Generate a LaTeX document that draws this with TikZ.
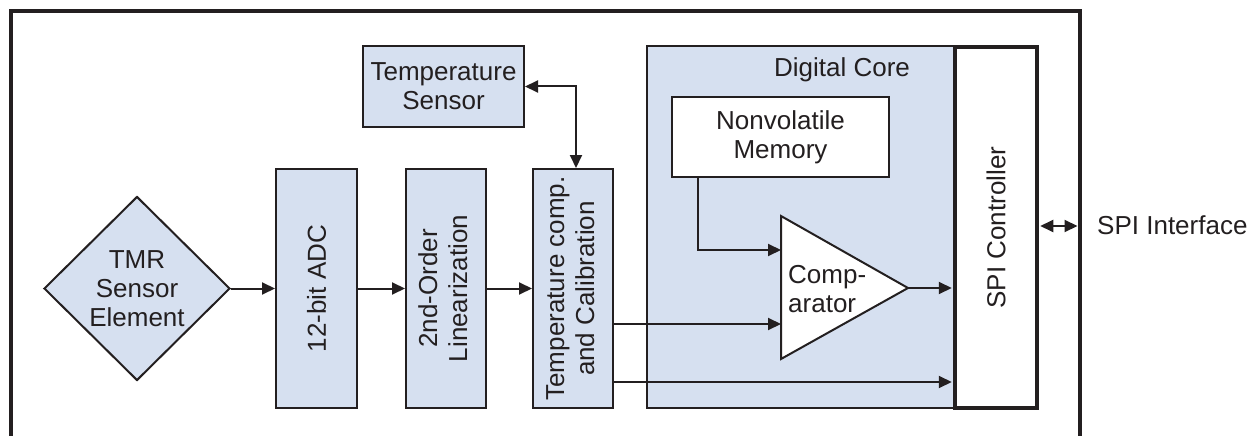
\documentclass[tikz,border=0pt]{standalone}
\usepackage{fontspec}
\setmainfont{Liberation Sans}
\usepackage{graphicx}
\usetikzlibrary{arrows.meta,shapes.geometric,calc}
\definecolor{bluefill}{RGB}{214,224,240}
\definecolor{ink}{RGB}{35,31,32}
\begin{document}
\begin{tikzpicture}[x=1pt,y=-1pt,
  every node/.style={font=\fontsize{26}{29}\selectfont, text=ink},
  blkbox/.style={draw=ink, line width=2pt, fill=bluefill, inner sep=0pt, align=center},
  whitebox/.style={draw=ink, line width=2pt, fill=white, inner sep=0pt, align=center},
  conn/.style={draw=ink, line width=2pt, -{Triangle[length=13pt,width=12pt]}},
  dconn/.style={draw=ink, line width=2pt, {Triangle[length=13pt,width=12pt]}-{Triangle[length=13pt,width=12pt]}}]
\useasboundingbox (0,0) rectangle (1251,436);

% outer frame
\draw[ink, line width=4pt] (11,436) -- (11,11) -- (1079.5,11) -- (1079.5,436);

% digital core
\node[blkbox, minimum width=308pt, minimum height=362pt] (core) at (801,227) {};
\node (corelbl) at (842,70) {Digital Core};
\node[whitebox, minimum width=217pt, minimum height=80pt] (mem) at (780.5,137) {Nonvolatile\\Memory};

% comparator
\coordinate (ct) at (781,216);
\coordinate (cb) at (781,359);
\coordinate (cout) at (908,288);
\coordinate (cin1) at (781,250);
\coordinate (cin2) at (781,324);
\draw[ink, line width=2pt, fill=white, line join=miter] (ct) -- (cout) -- (cb) -- cycle;
\node[anchor=west, inner sep=0pt, align=left] (comp) at (788,289) {Comp-\\arator};

% SPI controller
\node[draw=ink, line width=3.5pt, fill=white, inner sep=0pt, minimum width=82pt, minimum height=361pt] (spi) at (996,227.5) {\rotatebox{90}{SPI Controller}};

% signal chain
\node[blkbox, shape=diamond, minimum width=186pt, minimum height=184pt] (tmr) at (137,288.5) {TMR\\Sensor\\Element};
\node[blkbox, minimum width=81pt, minimum height=239pt] (adc) at (316.5,288.5) {\rotatebox{90}{12-bit ADC}};
\node[blkbox, minimum width=80pt, minimum height=239pt] (lin) at (446,288.5) {\rotatebox{90}{\fontsize{26}{30}\selectfont\begin{tabular}{@{}c@{}}2nd-Order\\Linearization\end{tabular}}};
\node[blkbox, minimum width=80pt, minimum height=239pt] (tcal) at (573,288.5) {\rotatebox{90}{\fontsize{26}{30}\selectfont\begin{tabular}{@{}c@{}}Temperature comp.\\and Calibration\end{tabular}}};
\node[blkbox, minimum width=161pt, minimum height=81pt] (tsens) at (443.5,86.5) {Temperature\\Sensor};

% connectors
\draw[conn] (tmr.east) -- (adc.west);
\draw[conn] (adc.east) -- (lin.west);
\draw[conn] (lin.east) -- (tcal.west);
\draw[dconn] ([xshift=3pt]tcal.north) |- (tsens.east);
\draw[conn] ($(mem.south west)+(27,0)$) |- (cin1);
\draw[conn] (tcal.east |- cin2) -- (cin2);
\draw[conn] (cout) -- ([xshift=-1.5pt]spi.west |- cout);
\draw[conn] (tcal.east |- 0,382) -- ([xshift=-1.5pt]spi.west |- 0,382);
\coordinate (frameR) at (1077.5,226);
\draw[dconn] ([xshift=1.5pt]spi.east |- frameR) -- (frameR);
\node[anchor=base west, inner sep=0pt] (spiif) at (1097,234) {SPI Interface};
\end{tikzpicture}
\end{document}
